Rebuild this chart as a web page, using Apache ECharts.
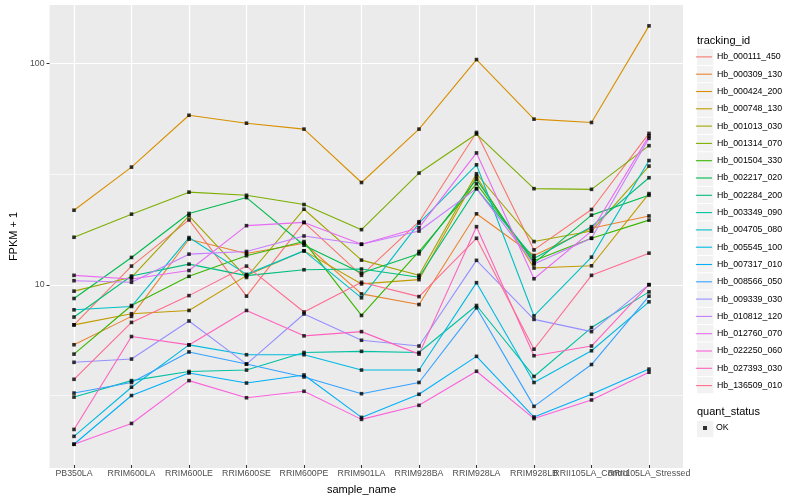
<!DOCTYPE html>
<html><head><meta charset="utf-8">
<script src="https://cdn.jsdelivr.net/npm/echarts@6.0.0/dist/echarts.min.js"></script>
<style>html,body{margin:0;padding:0;background:#fff}#c{width:800px;height:500px}</style>
</head><body><div id="c"></div>
<script>
const categories = ["PB350LA","RRIM600LA","RRIM600LE","RRIM600SE","RRIM600PE","RRIM901LA","RRIM928BA","RRIM928LA","RRIM928LB","RRII105LA_Control","RRII105LA_Stressed"];
const trackingIds = ["Hb_000111_450","Hb_000309_130","Hb_000424_200","Hb_000748_130","Hb_001013_030","Hb_001314_070","Hb_001504_330","Hb_002217_020","Hb_002284_200","Hb_003349_090","Hb_004705_080","Hb_005545_100","Hb_007317_010","Hb_008566_050","Hb_009339_030","Hb_010812_120","Hb_012760_070","Hb_022250_060","Hb_027393_030","Hb_136509_010"];
const colors = ["#F8766D","#EA8331","#D89000","#C09B00","#A3A500","#7CAE00","#39B600","#00BB4E","#00BF7D","#00C1A3","#00BFC4","#00BAE0","#00B0F6","#35A2FF","#9590FF","#C77CFF","#E76BF3","#FA62DB","#FF62BC","#FF6C91"];

const s000111_450 = [6.45, 11.93, 19.34, 8.71, 18.84, 10.83, 18.98, 48.3, 14.13, 21.57, 47.8];
const s000309_130 = [5.24, 7.05, 15.8, 13.62, 15.15, 8.92, 7.98, 20.62, 13.33, 17.71, 20.16];
const s000424_200 = [21.4, 33.6, 57.8, 53.2, 50.0, 28.6, 50.0, 103.5, 55.5, 53.6, 147.3];
const s000748_130 = [6.45, 7.25, 7.5, 10.8, 13.99, 9.9, 10.35, 30.48, 11.69, 11.97, 25.47];
const s001013_030 = [9.18, 10.61, 20.2, 10.59, 21.63, 12.7, 10.83, 31.35, 15.42, 17.21, 33.96];
const s001314_070 = [16.13, 20.54, 25.86, 25.02, 22.72, 17.47, 31.57, 47.5, 26.82, 26.63, 42.05];
const s001504_330 = [4.75, 7.9, 10.72, 13.3, 15.42, 7.12, 13.9, 28.25, 12.61, 15.96, 19.3];
const s002217_020 = [8.5, 13.06, 20.69, 24.43, 14.84, 11.1, 13.56, 29.54, 12.31, 20.33, 25.02];
const s002284_200 = [7.0, 10.75, 12.18, 10.8, 11.48, 11.57, 10.61, 26.82, 12.92, 18.02, 30.07];
const s003349_090 = [3.03, 3.6, 3.96, 4.02, 4.83, 4.89, 4.83, 7.9, 3.76, 6.27, 9.11];
const s004705_080 = [7.55, 7.82, 16.08, 10.94, 13.99, 8.56, 18.71, 34.42, 7.08, 13.1, 35.99];
const s005545_100 = [2.01, 3.36, 5.23, 4.72, 4.72, 4.02, 4.02, 10.03, 3.53, 4.92, 8.21];
const s007317_010 = [1.85, 3.08, 3.9, 3.51, 3.82, 2.45, 3.12, 4.64, 2.46, 3.12, 4.06];
const s008566_050 = [3.16, 3.53, 4.86, 4.28, 3.74, 3.14, 3.53, 7.71, 2.75, 4.26, 8.71];
const s009339_030 = [4.36, 4.51, 6.72, 4.28, 7.23, 5.49, 5.17, 12.67, 6.83, 6.01, 9.82];
const s010812_120 = [10.24, 10.07, 13.52, 13.9, 16.35, 14.99, 17.21, 26.82, 12.18, 15.96, 45.4];
const s012760_070 = [10.83, 10.42, 11.39, 18.21, 18.84, 14.99, 17.83, 38.98, 10.45, 17.21, 46.6];
const s022250_060 = [1.85, 2.3, 3.6, 3.01, 3.22, 2.4, 2.78, 3.97, 2.42, 2.94, 3.93];
const s027393_030 = [2.16, 5.71, 5.23, 7.5, 5.75, 6.01, 4.75, 18.02, 4.67, 5.17, 9.82];
const s136509_010 = [3.65, 6.62, 8.76, 11.93, 7.38, 10.07, 8.67, 15.96, 5.0, 10.83, 13.66];

const yTickValues = [10, 100];
const yMinorValues = [3.1623, 31.623];
const yMin = 1.489, yMax = 183.2;

const seriesValues = [s000111_450,s000309_130,s000424_200,s000748_130,s001013_030,s001314_070,s001504_330,s002217_020,s002284_200,s003349_090,s004705_080,s005545_100,s007317_010,s008566_050,s009339_030,s010812_120,s012760_070,s022250_060,s027393_030,s136509_010];

const FONT = '"Liberation Sans", Arial, Helvetica, sans-serif';
const chart = echarts.init(document.getElementById('c'), null, {renderer: 'canvas'});

const lineSeries = trackingIds.map((id, i) => ({
  name: id, type: 'line', xAxisIndex: 1, yAxisIndex: 1,
  data: seriesValues[i], symbol: 'none', z: 2,
  lineStyle: {color: colors[i], width: 1.1}, itemStyle: {color: colors[i]},
  emphasis: {disabled: true}
}));

const pointData = [];
seriesValues.forEach(arr => arr.forEach((v, j) => pointData.push([categories[j], v])));

const keyRects = trackingIds.map((id, i) => ({
  type: 'rect', shape: {x: 697, y: 48.6 + i * 17.28, width: 16.3, height: 16.3},
  style: {fill: '#F2F2F2'}, z: -1, silent: true
}));

const option = {
  animation: false,
  backgroundColor: '#FFFFFF',
  textStyle: {fontFamily: FONT},
  grid: [
    {left: 41, top: 5, width: 642, height: 463, show: true, backgroundColor: '#EBEBEB', borderWidth: 0, containLabel: false},
    {left: 74, top: 5, width: 575, height: 463, show: false, containLabel: false}
  ],
  xAxis: [
    {gridIndex: 0, type: 'value', min: 0, max: 1, show: false},
    {gridIndex: 1, type: 'category', data: categories, boundaryGap: false,
     name: 'sample_name', nameLocation: 'middle', nameGap: 19,
     nameTextStyle: {fontSize: 11, color: '#000', fontFamily: FONT},
     axisLine: {show: false},
     axisTick: {show: true, length: 3, lineStyle: {color: '#333333', width: 1}},
     axisLabel: {interval: 0, fontSize: 8.8, color: '#4D4D4D', margin: 4, fontFamily: FONT},
     splitLine: {show: true, lineStyle: {color: '#FFFFFF', width: 1.2}}}
  ],
  yAxis: [
    {gridIndex: 0, type: 'log', logBase: 10, min: yMin, max: yMax,
     name: 'FPKM + 1', nameLocation: 'middle', nameGap: 29,
     nameTextStyle: {fontSize: 11, color: '#000', fontFamily: FONT},
     axisLine: {show: false},
     axisTick: {show: true, length: 3, customValues: yTickValues, lineStyle: {color: '#333333', width: 1}},
     axisLabel: {customValues: yTickValues, fontSize: 8.8, color: '#4D4D4D', margin: 5, fontFamily: FONT,
       formatter: v => (yTickValues.some(t => Math.abs(t - v) < 1e-6 * t) ? String(Math.round(v)) : '')},
     splitLine: {show: true, lineStyle: {color: '#FFFFFF', width: 1.2}}},
    {gridIndex: 1, type: 'log', logBase: 10, min: yMin, max: yMax, show: false, splitLine: {show: false}}
  ],
  legend: [
    {data: trackingIds, orient: 'vertical', left: 696, top: 52.4, padding: 0,
     itemWidth: 16, itemHeight: 14, itemGap: 8.3, symbolKeepAspect: true,
     icon: 'path://M0,0 L16,0 L16,1.1 L0,1.1 Z',
     selectedMode: false,
     textStyle: {fontSize: 8.8, color: '#000', fontFamily: FONT}},
    {data: ['OK'], orient: 'vertical', left: 703, top: 423.5, padding: 0,
     itemWidth: 4, itemHeight: 4, icon: 'rect', selectedMode: false,
     itemStyle: {color: '#000'},
     textStyle: {fontSize: 8.8, color: '#000', fontFamily: FONT, padding: [0, 0, 0, 4]}}
  ],
  graphic: [
    ...keyRects,
    {type: 'rect', shape: {x: 697, y: 420.8, width: 16.3, height: 16.3}, style: {fill: '#F2F2F2'}, z: -1, silent: true},
    {type: 'text', left: 697, top: 35, style: {text: 'tracking_id', fontSize: 11, fill: '#000', fontFamily: FONT}, silent: true},
    {type: 'text', left: 697, top: 406, style: {text: 'quant_status', fontSize: 11, fill: '#000', fontFamily: FONT}, silent: true}
  ],
  series: [
    {name: '_minor', type: 'line', xAxisIndex: 0, yAxisIndex: 0, data: [[0.5, 10]], z: 0, silent: true,
     showSymbol: false, symbol: 'none', lineStyle: {opacity: 0},
     markLine: {silent: true, symbol: 'none', label: {show: false}, animation: false, z: 0,
       lineStyle: {color: '#FFFFFF', width: 0.6, type: 'solid'},
       emphasis: {disabled: true},
       data: yMinorValues.map(v => ({yAxis: v}))}},
    ...lineSeries,
    {name: 'OK', type: 'scatter', xAxisIndex: 1, yAxisIndex: 1, data: pointData,
     symbol: 'rect', symbolSize: 3.6, z: 5, itemStyle: {color: '#000'}, emphasis: {disabled: true}}
  ]
};
chart.setOption(option);
</script></body></html>
